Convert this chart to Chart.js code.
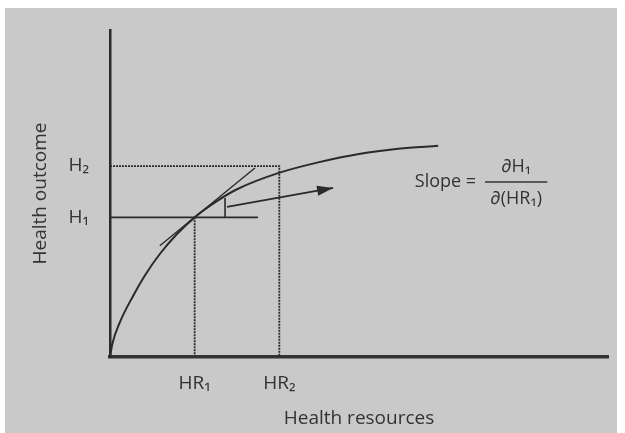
<!DOCTYPE html>
<html><head><meta charset="utf-8">
<script src="https://cdn.jsdelivr.net/npm/chart.js@4.4.1/dist/chart.umd.min.js"></script>
<style>
html,body{margin:0;padding:0;background:#fff;}
#wrap{position:relative;width:625px;height:433px;background:#fff;overflow:hidden;}
#bg{position:absolute;left:5px;top:8px;width:612px;height:425px;background:#c9c9c9;}
canvas{position:absolute;left:0;top:0;}
</style></head><body>
<div id="wrap"><div id="bg"></div><canvas id="c" width="625" height="433"></canvas></div>
<script>
// ---- data (conceptual units 0..100 on both axes) ----
const xTickValues = [17, 34];
const xTickLabels = ['HR\u2081', 'HR\u2082'];
const yTickValues = [42.7, 58.4];
const yTickLabels = ['H\u2081', 'H\u2082'];
const curveX = [0, 0.5, 2, 4.5, 7, 10, 13.5, 17, 21, 25.5, 33.9, 42.0, 50.0, 57.9, 65.9];
const curveY = [0, 4.2, 10.7, 18.3, 24.9, 31.5, 37.7, 42.7, 47.2, 51.3, 56.3, 59.6, 62.1, 63.7, 64.6];
const h1LineEndX = 29.7;
const tangentX = [10, 29.1];
const tangentY = [34.0, 57.8];
const markerX = [23.1, 23.1];
const markerY = [48.6, 42.7];
const arrowX = [23.5, 44.8];
const arrowY = [45.9, 51.7];
const xTitle = 'Health resources';
const yTitle = 'Health outcome';
const slopeLabel = 'Slope =';
const slopeNumerator = '\u2202H\u2081';
const slopeDenominator = '\u2202(HR\u2081)';
const slopeAnchor = {labelX: 61.2, barStartX: 75.3, barEndX: 87.8, y: 53.5};

const FONT = '"Open Sans", "DejaVu Sans", sans-serif';
const INK = '#2a2a2a';
const TXT = '#333333';

const pts = (xs, ys) => xs.map((x, i) => ({x, y: ys[i]}));

const arrowHeadPlugin = {
  id: 'arrowHead',
  afterDatasetsDraw(chart) {
    const meta = chart.getDatasetMeta(5);
    const p = meta.data;
    const a = p[p.length - 2], b = p[p.length - 1];
    const ang = Math.atan2(b.y - a.y, b.x - a.x);
    const len = 16, hw = 5;
    const ctx = chart.ctx;
    ctx.save();
    ctx.fillStyle = INK;
    ctx.beginPath();
    ctx.moveTo(b.x, b.y);
    ctx.lineTo(b.x - len * Math.cos(ang) + hw * Math.sin(ang), b.y - len * Math.sin(ang) - hw * Math.cos(ang));
    ctx.lineTo(b.x - len * Math.cos(ang) - hw * Math.sin(ang), b.y - len * Math.sin(ang) + hw * Math.cos(ang));
    ctx.closePath();
    ctx.fill();
    ctx.restore();
  }
};

const slopeTextPlugin = {
  id: 'slopeText',
  afterDraw(chart) {
    const xs = chart.scales.x, ys = chart.scales.y, ctx = chart.ctx;
    const lx = xs.getPixelForValue(slopeAnchor.labelX);
    const b0 = xs.getPixelForValue(slopeAnchor.barStartX);
    const b1 = xs.getPixelForValue(slopeAnchor.barEndX);
    const y = ys.getPixelForValue(slopeAnchor.y);
    ctx.save();
    ctx.fillStyle = TXT;
    ctx.strokeStyle = TXT;
    ctx.font = '18px ' + FONT;
    ctx.textBaseline = 'middle';
    ctx.textAlign = 'left';
    ctx.fillText(slopeLabel, lx, y);
    ctx.lineWidth = 1.5;
    ctx.beginPath();
    ctx.moveTo(b0, y);
    ctx.lineTo(b1, y);
    ctx.stroke();
    ctx.textAlign = 'center';
    const cx = (b0 + b1) / 2;
    ctx.fillText(slopeNumerator, cx, y - 15);
    ctx.fillText(slopeDenominator, cx, y + 17);
    ctx.restore();
  }
};

const lineDs = (data, extra) => Object.assign({
  data, showLine: true, pointRadius: 0, borderColor: INK, borderWidth: 1.6, fill: false, tension: 0
}, extra);

new Chart(document.getElementById('c'), {
  type: 'scatter',
  data: {
    datasets: [
      lineDs(pts([0, xTickValues[1], xTickValues[1]], [yTickValues[1], yTickValues[1], 0]), {borderDash: [2, 1], borderWidth: 1.8}),
      lineDs(pts([0, h1LineEndX], [yTickValues[0], yTickValues[0]]), {borderWidth: 1.6}),
      lineDs(pts([xTickValues[0], xTickValues[0]], [yTickValues[0], 0]), {borderDash: [2, 1], borderWidth: 1.8}),
      lineDs(pts(tangentX, tangentY), {borderWidth: 1.4}),
      lineDs(pts(markerX, markerY), {borderWidth: 1.6}),
      lineDs(pts(arrowX, arrowY), {borderWidth: 1.8}),
      lineDs(pts(curveX, curveY), {borderWidth: 2, cubicInterpolationMode: 'monotone'})
    ]
  },
  options: {
    responsive: false,
    animation: false,
    events: [],
    layout: {padding: {left: 0, right: 17, top: 30, bottom: 0}},
    plugins: {legend: {display: false}, tooltip: {enabled: false}},
    scales: {
      x: {
        type: 'linear', min: 0, max: 100,
        grid: {display: false},
        border: {display: true, color: '#333', width: 3.5},
        afterBuildTicks: s => { s.ticks = xTickValues.map(v => ({value: v})); },
        afterFit: s => { s.height = 76; },
        ticks: {autoSkip: false, maxRotation: 0, padding: 7, color: TXT, font: {family: FONT, size: 19},
          callback: (v, i) => xTickLabels[i]},
        title: {display: true, text: xTitle, color: TXT, font: {family: FONT, size: 19}, padding: {top: 0, bottom: 3}}
      },
      y: {
        type: 'linear', min: 0, max: 100,
        grid: {display: false},
        border: {display: true, color: INK, width: 2.5},
        afterBuildTicks: s => { s.ticks = yTickValues.map(v => ({value: v})); },
        afterFit: s => { s.width = 110; },
        ticks: {autoSkip: false, padding: 13, color: TXT, font: {family: FONT, size: 19},
          callback: (v, i) => yTickLabels[i]},
        title: {display: true, text: yTitle, color: TXT, font: {family: FONT, size: 19}, padding: {top: 29, bottom: 0}}
      }
    }
  },
  plugins: [arrowHeadPlugin, slopeTextPlugin]
});
</script>
</body></html>
